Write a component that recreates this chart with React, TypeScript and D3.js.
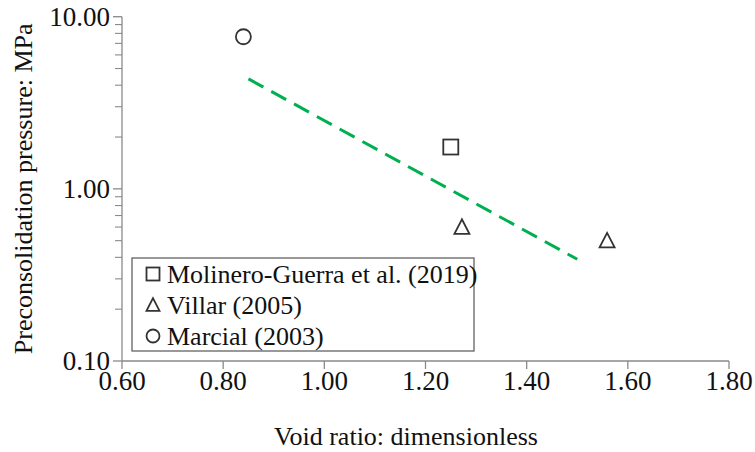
import React from "react";
import * as d3 from "d3";

// Measured preconsolidation pressure against void ratio, by source
const molineroVoid = [1.25];
const molineroPc = [1.75];
const villarVoid = [1.272, 1.559];
const villarPc = [0.6, 0.5];
const marcialVoid = [0.84];
const marcialPc = [7.65];

// Fitted trend line endpoints
const trendVoid = [0.85, 1.5];
const trendPc = [4.35, 0.39];

const xTicks = [0.6, 0.8, 1.0, 1.2, 1.4, 1.6, 1.8];
const yTicks = [0.1, 1, 10];

const legendLabels = ["Molinero-Guerra et al. (2019)", "Villar (2005)", "Marcial (2003)"];

const W = 755;
const H = 452;
const left = 122;
const right = 729;
const top = 16.7;
const bottom = 361;
const FONT = "'Liberation Serif', 'Times New Roman', serif";
const INK = "#333333";
const TEXT = "#111111";
const AXIS = "#8a8a8a";
const FS = 26;
const TICK_FS = 27;

export default function App() {
  const x = d3.scaleLinear().domain([0.6, 1.8]).range([left, right]);
  const y = d3.scaleLog().domain([0.1, 10]).range([bottom, top]);

  const minorY: number[] = [];
  for (const base of [0.1, 1]) {
    for (let k = 2; k <= 9; k++) minorY.push(base * k);
  }

  const trend = d3
    .line<number>()
    .x((_, i) => x(trendVoid[i]))
    .y((v) => y(v));

  const square = (cx: number, cy: number, s: number, key?: string) => (
    <rect key={key} x={cx - s / 2} y={cy - s / 2} width={s} height={s} fill="none" stroke={INK} strokeWidth={1.8} />
  );
  const triangle = (cx: number, cy: number, s: number, key?: string) => {
    const h = s * 0.9;
    const pts = `${cx},${cy - h / 2 - 1} ${cx - s / 2},${cy + h / 2} ${cx + s / 2},${cy + h / 2}`;
    return <polygon key={key} points={pts} fill="none" stroke={INK} strokeWidth={1.8} />;
  };
  const circle = (cx: number, cy: number, r: number, key?: string) => (
    <circle key={key} cx={cx} cy={cy} r={r} fill="none" stroke={INK} strokeWidth={1.8} />
  );

  const lx = 132;
  const ly = 258;
  const lw = 342;
  const lh = 93;
  const rowY = [ly + 16, ly + 47, ly + 78];

  return (
    <svg width={W} height={H} style={{ position: "absolute", left: 0, top: 0 }} fontFamily={FONT}>
      <rect x={0} y={0} width={W} height={H} fill="#ffffff" />

      {/* trend line */}
      <path
        d={trend(trendPc) ?? ""}
        fill="none"
        stroke="#00b050"
        strokeWidth={3}
        strokeDasharray="17 9"
      />

      {/* axes */}
      <line x1={left} x2={left} y1={top} y2={bottom} stroke={AXIS} strokeWidth={1.3} />
      <line x1={left} x2={right} y1={bottom} y2={bottom} stroke={AXIS} strokeWidth={1.3} />

      {yTicks.map((t) => (
        <g key={`yt${t}`}>
          <line x1={left - 9} x2={left} y1={y(t)} y2={y(t)} stroke={AXIS} strokeWidth={1.3} />
          <text x={left - 12} y={y(t)} dy="0.35em" textAnchor="end" fontSize={TICK_FS} fill={TEXT}>
            {t.toFixed(2)}
          </text>
        </g>
      ))}
      {minorY.map((t) => (
        <line key={`ym${t}`} x1={left - 7} x2={left} y1={y(t)} y2={y(t)} stroke={AXIS} strokeWidth={1.1} />
      ))}
      {xTicks.map((t) => (
        <g key={`xt${t}`}>
          <line x1={x(t)} x2={x(t)} y1={bottom} y2={bottom + 8} stroke={AXIS} strokeWidth={1.3} />
          <text x={x(t)} y={bottom + 29} textAnchor="middle" fontSize={TICK_FS} fill={TEXT}>
            {t.toFixed(2)}
          </text>
        </g>
      ))}

      <text x={406} y={445} textAnchor="middle" fontSize={FS} fill={TEXT}>
        Void ratio: dimensionless
      </text>
      <text
        transform={`translate(32, ${(top + bottom) / 2}) rotate(-90)`}
        textAnchor="middle"
        fontSize={FS}
        fill={TEXT}
      >
        Preconsolidation pressure: MPa
      </text>

      {/* data points */}
      {molineroVoid.map((v, i) => square(x(v), y(molineroPc[i]), 15, `m${i}`))}
      {villarVoid.map((v, i) => triangle(x(v), y(villarPc[i]), 15, `v${i}`))}
      {marcialVoid.map((v, i) => circle(x(v), y(marcialPc[i]), 7.5, `c${i}`))}

      {/* legend */}
      <rect x={lx} y={ly} width={lw} height={lh} fill="#ffffff" stroke="#555" strokeWidth={1.2} />
      {square(lx + 21, rowY[0], 13)}
      {triangle(lx + 21, rowY[1], 13)}
      {circle(lx + 21, rowY[2], 6.5)}
      {legendLabels.map((s, i) => (
        <text key={s} x={lx + 35} y={rowY[i]} dy="0.35em" fontSize={FS} fill={TEXT}>
          {s}
        </text>
      ))}
    </svg>
  );
}
